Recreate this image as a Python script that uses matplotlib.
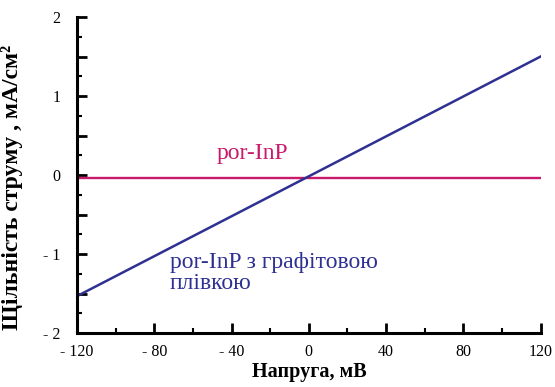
import matplotlib
matplotlib.use("Agg")
import matplotlib.pyplot as plt
from matplotlib.ticker import MultipleLocator, FuncFormatter

# voltage, mV
voltage = [-120, 120]
# current density, mA/cm^2
j_por = [-0.04, -0.04]
j_graphite = [-1.53, 1.50]

red = '#C8196A'
blue = '#2E3192'

plt.rcParams['font.family'] = ['Liberation Serif', 'DejaVu Serif']

fig = plt.figure(figsize=(5.55, 3.87), dpi=100)
ax = fig.add_axes([0.139, 0.139, 0.835, 0.817])

ax.plot(voltage, j_por, color=red, lw=1.7)
ax.plot(voltage, j_graphite, color=blue, lw=1.8)

ax.set_xlim(-120, 120)
ax.set_ylim(-2, 2)

for s in ['top', 'right']:
    ax.spines[s].set_visible(False)
for s in ['left', 'bottom']:
    ax.spines[s].set_linewidth(2.2)


def fmt(v, pos):
    if abs(v - round(v)) > 1e-6:
        return ''
    v = int(round(v))
    return '- %d' % -v if v < 0 else '%d' % v


ax.xaxis.set_major_locator(MultipleLocator(40))
ax.xaxis.set_minor_locator(MultipleLocator(20))
ax.yaxis.set_major_locator(MultipleLocator(0.5))
ax.yaxis.set_minor_locator(MultipleLocator(0.25))
ax.xaxis.set_major_formatter(FuncFormatter(fmt))
ax.yaxis.set_major_formatter(FuncFormatter(fmt))
ax.tick_params(which='major', direction='in', length=7, width=2, labelsize=11.5)
ax.tick_params(which='minor', direction='in', length=3.5, width=1.5)
ax.tick_params(axis='x', which='major', pad=8)
ax.tick_params(axis='y', which='major', pad=12)

ax.set_xlabel('Напруга, мВ', fontsize=14.5, fontweight='bold', labelpad=1)
ax.set_ylabel('Щільність струму , мА/см²', fontsize=17, fontweight='bold')
ax.yaxis.set_label_coords(-0.117, 0.46)

ax.text(-29, 0.27, 'por-InP', color=red, fontsize=17, ha='center', va='center')
ax.text(-72, -1.24, 'por-InP з графітовою\nплівкою', color=blue, fontsize=17,
        ha='left', va='center', linespacing=1.0)

fig.savefig('out.png', dpi=100)
